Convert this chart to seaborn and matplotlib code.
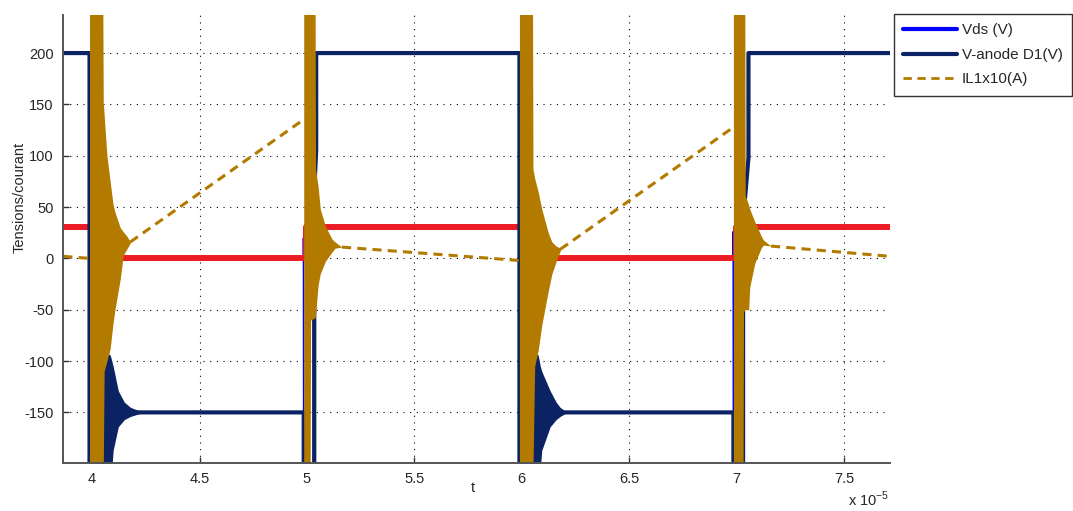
import matplotlib
matplotlib.use("Agg")
import matplotlib.pyplot as plt
from matplotlib.lines import Line2D
import numpy as np
import pandas as pd
import seaborn as sns

# time axis in units of 1e-5 s
T_MIN, T_MAX = 3.866, 7.714

# Vds (V) - mostly hidden under the red trace
vds_t = [3.866, 3.998, 3.998, 4.984, 4.984, 4.985, 5.030, 5.030, 5.999, 5.999, 6.984, 6.984, 6.985, 7.030, 7.030, 7.714]
vds_v = [31, 31, 0, 0, 20, -205, -205, 31, 31, 0, 0, 26, -205, -205, 31, 31]

# red command trace
cmd_t = [3.866, 3.998, 3.998, 4.997, 4.997, 6.001, 6.001, 6.997, 6.997, 7.714]
cmd_v = [31, 31, 0, 0, 31, 31, 0, 0, 31, 31]

# V-anode D1 (V)
va_t = [3.866, 3.988, 3.988, 4.050, 4.050, 4.985, 4.985, 5.034, 5.034, 5.043, 5.043,
        5.989, 5.989, 6.050, 6.050, 6.985, 6.985, 7.030, 7.030, 7.055, 7.055, 7.714]
va_v = [200, 200, -205, -205, -150, -150, -205, -205, 66, 105, 200,
        200, -205, -205, -150, -150, -205, -205, 37, 98, 200, 200]

# IL1 x10 (A) - ramps between switching events
il_t = [3.866, 3.988, 4.178, 4.983, 5.163, 5.985, 6.180, 6.980, 7.160, 7.714]
il_v = [2, 0, 16, 135, 11, -2, 9, 127, 12, 2]
il_seg = [0, 0, 1, 1, 2, 2, 3, 3, 4, 4]

# ringing envelopes of IL1 x10 at each switching event
ring1_t = [3.988, 4.050, 4.052, 4.056, 4.069, 4.084, 4.098, 4.108, 4.131, 4.145, 4.164, 4.178]
ring1_hi = [240, 240, 152, 140, 100, 75, 52, 44, 30, 26, 21, 16]
ring1_lo = [-205, -205, -205, -110, -100, -88, -62, -48, -20, 3, 10, 15]

ring2_t = [4.985, 5.015, 5.017, 5.038, 5.040, 5.052, 5.062, 5.085, 5.116, 5.131, 5.163]
ring2_hi = [240, 240, 240, 240, 87, 70, 48, 32, 19, 16, 11]
ring2_lo = [-205, -205, -60, -58, -55, -26, -15, -3, 6, 10, 11]

ring3_t = [5.989, 6.050, 6.052, 6.060, 6.076, 6.093, 6.123, 6.140, 6.160, 6.180]
ring3_hi = [240, 240, 87, 78, 65, 48, 25, 16, 12, 10]
ring3_lo = [-205, -205, -205, -105, -90, -65, -32, -15, -3, 8]

ring4_t = [6.985, 7.030, 7.032, 7.038, 7.040, 7.056, 7.061, 7.084, 7.114, 7.124, 7.160]
ring4_hi = [240, 240, 240, 240, 61, 52, 48, 36, 22, 18, 12]
ring4_lo = [-205, -205, -52, -50, -50, -50, -28, -5, 10, 13, 12]

# ringing envelopes of V-anode around -150 V
nav1_t = [4.050, 4.084, 4.092, 4.098, 4.122, 4.150, 4.178, 4.238]
nav1_hi = [-90, -94, -100, -105, -129, -140, -145, -150]
nav1_lo = [-205, -205, -205, -187, -164, -157, -154, -150]

nav3_t = [6.050, 6.076, 6.086, 6.093, 6.132, 6.160, 6.178, 6.211]
nav3_hi = [-90, -94, -105, -110, -129, -140, -145, -150]
nav3_lo = [-205, -205, -205, -187, -164, -157, -154, -150]

x_ticks = [4, 4.5, 5, 5.5, 6, 6.5, 7, 7.5]
y_ticks = [-150, -100, -50, 0, 50, 100, 150, 200]

BLUE = "#0000ff"
NAVY = "#0c2363"
GOLD = "#b27b00"
RED = "#ec1c24"

sns.set_style("white")
plt.rcParams["font.family"] = ["Liberation Sans", "DejaVu Sans"]
plt.rcParams["axes.unicode_minus"] = False

fig = plt.figure(figsize=(10.73, 5.11), dpi=100)
ax = fig.add_axes([0.059, 0.0945, 0.7705, 0.876])


def draw(t, v, color, lw, z, **kw):
    df = pd.DataFrame({"t": t, "v": v})
    sns.lineplot(data=df, x="t", y="v", estimator=None, sort=False,
                 color=color, linewidth=lw, zorder=z, ax=ax, **kw)


draw(vds_t, vds_v, BLUE, 1.2, 2.0)
draw(cmd_t, cmd_v, RED, 4.3, 2.1)
draw(va_t, va_v, NAVY, 3.0, 2.2)
for tt, hi, lo in [(nav1_t, nav1_hi, nav1_lo), (nav3_t, nav3_hi, nav3_lo)]:
    ax.fill_between(tt, lo, hi, color=NAVY, linewidth=0, zorder=2.3)

il_df = pd.DataFrame({"t": il_t, "v": il_v, "seg": il_seg})
sns.lineplot(data=il_df, x="t", y="v", units="seg", estimator=None, sort=False,
             color=GOLD, linewidth=2.2, linestyle=(0, (3, 2)), zorder=2.4, ax=ax)
for tt, hi, lo in [(ring1_t, ring1_hi, ring1_lo), (ring2_t, ring2_hi, ring2_lo),
                   (ring3_t, ring3_hi, ring3_lo), (ring4_t, ring4_hi, ring4_lo)]:
    ax.fill_between(tt, lo, hi, color=GOLD, linewidth=0, zorder=2.5)

ax.set_xlim(T_MIN, T_MAX)
ax.set_ylim(-199, 237)
ax.set_xticks(x_ticks)
ax.set_xticklabels([f"{x:g}" for x in x_ticks])
ax.set_yticks(y_ticks)
ax.set_yticklabels([f"{y:g}" for y in y_ticks])
ax.tick_params(bottom=True, left=True, direction="in", length=4, width=1,
               color="#333333", labelsize=10.5, pad=7)

ax.grid(True, linestyle=(0, (1, 5)), color="black", linewidth=0.8)
ax.set_axisbelow(True)
sns.despine(ax=ax)
for s in ["left", "bottom"]:
    ax.spines[s].set_color("#555555")
    ax.spines[s].set_linewidth(1.4)

ax.set_xlabel("t", fontsize=10.5)
ax.xaxis.set_label_coords(0.495, -0.04)
ax.set_ylabel("Tensions/courant", fontsize=10.5)
ax.yaxis.set_label_coords(-0.044, 0.593)

fig.text(0.790, 0.004, r"x 10$^{\mathregular{-5}}$", fontsize=10.5, va="bottom")

handles = [Line2D([], [], color=BLUE, linewidth=3.0),
           Line2D([], [], color=NAVY, linewidth=3.0),
           Line2D([], [], color=GOLD, linewidth=2.0, linestyle=(0, (3, 2)))]
labels = ["Vds (V)", "V-anode D1(V)", "IL1x10(A)"]
leg = ax.legend(handles, labels, loc="upper left", bbox_to_anchor=(894 / 1073, 497 / 511),
                bbox_transform=fig.transFigure, fontsize=11, frameon=True, fancybox=False,
                edgecolor="black", borderpad=0.62, labelspacing=0.68, handlelength=3.5,
                handletextpad=0.3, borderaxespad=0)
leg.get_frame().set_linewidth(1.0)

fig.savefig("out.png", dpi=100)
